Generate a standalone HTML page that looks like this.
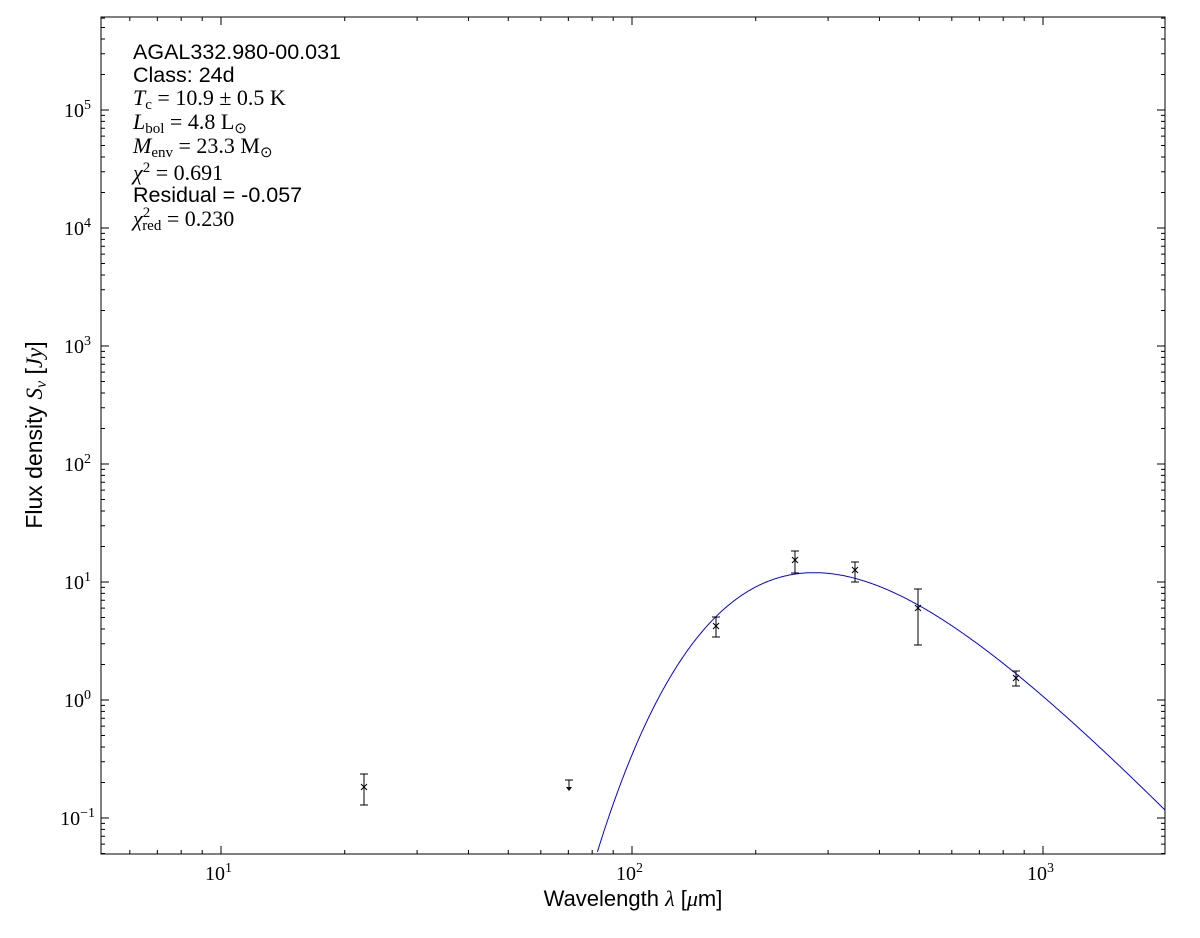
<!DOCTYPE html>
<html><head><meta charset="utf-8"><style>
body{margin:0;background:#fff}
svg text{font-family:"Liberation Sans",sans-serif}
.m{font-family:"Liberation Serif",serif}
</style></head><body>
<svg id="s" width="1200" height="933" xmlns="http://www.w3.org/2000/svg">
<defs><clipPath id="c"><rect x="101" y="17" width="1064" height="837"/></clipPath></defs>
<rect x="0" y="0" width="1200" height="933" fill="#fff"/>
<g id="ticks" stroke="#000" stroke-width="1"></g>
<path id="curve" fill="none" stroke="#0000ff" stroke-width="1" clip-path="url(#c)"/>
<g stroke="#000" stroke-width="1" fill="none">
<path d="M364,774V805M360,774H368M360,805H368"/>
<path d="M716,617V637M712,617H720M712,637H720"/>
<path d="M795,551V573M791,551H799M791,573H799"/>
<path d="M855,562V582M851,562H859M851,582H859"/>
<path d="M918,589V645M914,589H922M914,645H922"/>
<path d="M1016,671V686M1012,671H1020M1012,686H1020"/>
<path d="M569,780V788M565,780H573"/>
<path d="M361,784l6,6M367,784l-6,6 M713,623l6,6M719,623l-6,6 M792,557l6,6M798,557l-6,6 M852,567l6,6M858,567l-6,6 M915,605l6,6M921,605l-6,6 M1013,675l6,6M1019,675l-6,6"/>
</g>
<path d="M566,787L572,787L569,791Z" fill="#000"/>
<rect x="101" y="17" width="1064" height="837" fill="none" stroke="#000" stroke-width="1"/>
<g font-size="20" class="m">
<text x="205" y="880" class="m">10<tspan font-size="14" dy="-8">1</tspan></text>
<text x="616" y="880" class="m">10<tspan font-size="14" dy="-8">2</tspan></text>
<text x="1027" y="880" class="m">10<tspan font-size="14" dy="-8">3</tspan></text>
</g>
<g font-size="20" class="m" text-anchor="end">
<text x="91" y="117" class="m">10<tspan font-size="14" dy="-8">5</tspan></text>
<text x="91" y="235" class="m">10<tspan font-size="14" dy="-8">4</tspan></text>
<text x="91" y="353" class="m">10<tspan font-size="14" dy="-8">3</tspan></text>
<text x="91" y="471" class="m">10<tspan font-size="14" dy="-8">2</tspan></text>
<text x="91" y="589" class="m">10<tspan font-size="14" dy="-8">1</tspan></text>
<text x="91" y="707" class="m">10<tspan font-size="14" dy="-8">0</tspan></text>
<text x="95" y="825" class="m">10<tspan font-size="14" dy="-8">−1</tspan></text>
</g>
<text x="633" y="906" font-size="22" text-anchor="middle">Wavelength <tspan class="m" font-style="italic">λ</tspan> [<tspan class="m" font-style="italic">μ</tspan>m]</text>
<text transform="translate(42,435) rotate(-90)" font-size="23" text-anchor="middle">Flux density <tspan class="m" font-style="italic">S<tspan font-size="16" dy="4">ν</tspan></tspan><tspan dy="-4"> [</tspan><tspan class="m" font-style="italic">Jy</tspan>]</text>
<g font-size="21.5">
<text x="133" y="59">AGAL332.980-00.031</text>
<text x="133" y="82">Class: 24d</text>
<text x="133" y="105" class="m" font-size="22"><tspan font-style="italic">T</tspan><tspan font-size="15" dy="4">c</tspan><tspan dy="-4"> = 10.9 ± 0.5 K</tspan></text>
<text x="133" y="129" class="m" font-size="22"><tspan font-style="italic">L</tspan><tspan font-size="15" dy="4">bol</tspan><tspan dy="-4"> = 4.8 L</tspan><tspan font-size="15" dy="4">⊙</tspan></text>
<text x="133" y="153" class="m" font-size="22"><tspan font-style="italic">M</tspan><tspan font-size="15" dy="4">env</tspan><tspan dy="-4"> = 23.3 M</tspan><tspan font-size="15" dy="4">⊙</tspan></text>
<text x="133" y="180" class="m" font-size="22"><tspan font-style="italic">χ</tspan><tspan font-size="15" dy="-8">2</tspan><tspan dy="8"> = 0.691</tspan></text>
<text x="133" y="202">Residual = -0.057</text>
<text x="133" y="226" class="m" font-size="22"><tspan font-style="italic">χ</tspan><tspan font-size="15" dy="-9">2</tspan><tspan font-size="15" dx="-8" dy="13">red</tspan><tspan dy="-4"> = 0.230</tspan></text>
</g>
</svg>
<script>
var X=function(l){return 221+411*(Math.log10(l)-1)};
var Y=function(v){return 700-118*Math.log10(v)};
var t="";
for(var d=0;d<=3;d++)for(var k=1;k<10;k++){var l=k*Math.pow(10,d);var x=X(l);if(x<101||x>1165)continue;var L=k==1?8:4;t+="M"+x+",854v-"+L+"M"+x+",17v"+L;}
for(var d=-2;d<=5;d++)for(var k=1;k<10;k++){var v=k*Math.pow(10,d);var y=Y(v);if(y<17||y>854)continue;var L=k==1?8:4;t+="M101,"+y+"h"+L+"M1165,"+y+"h-"+L;}
var g=document.getElementById("ticks");var p=document.createElementNS("http://www.w3.org/2000/svg","path");p.setAttribute("d",t);g.appendChild(p);
var b=1.8,T=1320;function f(l){return Math.pow(l,-(3+b))/(Math.exp(T/l)-1);}
var mx=0;for(var l=50;l<3000;l+=1)mx=Math.max(mx,f(l));
var s="";for(var i=0;i<=600;i++){var l=Math.pow(10,1.85+i*(3.31-1.85)/600);var v=12*f(l)/mx;var y=Y(v);if(y>854&&s=="")continue;if(y>900)y=900;s+=(s==""?"M":"L")+X(l).toFixed(1)+","+y.toFixed(1);}
document.getElementById("curve").setAttribute("d",s);
</script>
</body></html>
